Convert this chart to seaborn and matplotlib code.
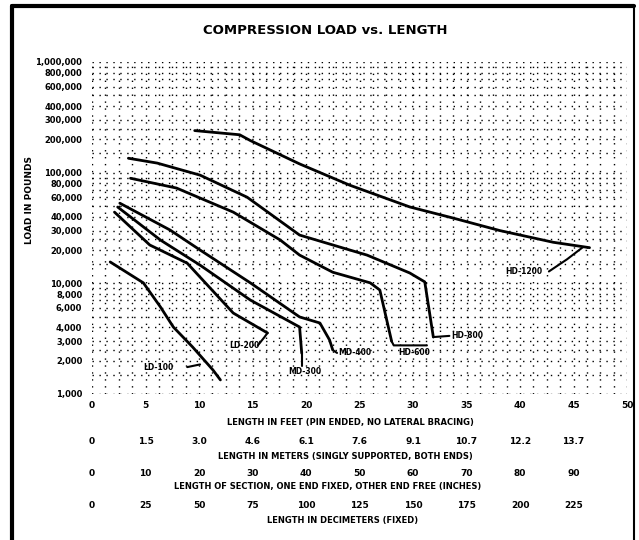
import numpy as np
import pandas as pd
import matplotlib
matplotlib.use("Agg")
import matplotlib.pyplot as plt
import matplotlib.transforms as mtransforms
from matplotlib.lines import Line2D
import seaborn as sns

# ---- chart data -------------------------------------------------------------
title = "COMPRESSION LOAD vs. LENGTH"
y_title = "LOAD IN POUNDS"

load_ticks = [1000, 2000, 3000, 4000, 6000, 8000, 10000, 20000, 30000, 40000,
              60000, 80000, 100000, 200000, 300000, 400000, 600000, 800000, 1000000]

feet_ticks = [0, 5, 10, 15, 20, 25, 30, 35, 40, 45, 50]
feet_title = "LENGTH IN FEET (PIN ENDED, NO LATERAL BRACING)"
row2_labels = ["0", "1.5", "3.0", "4.6", "6.1", "7.6", "9.1", "10.7", "12.2", "13.7"]
row2_title = "LENGTH IN METERS (SINGLY SUPPORTED, BOTH ENDS)"
row3_labels = ["0", "10", "20", "30", "40", "50", "60", "70", "80", "90"]
row3_title = "LENGTH OF SECTION, ONE END FIXED, OTHER END FREE (INCHES)"
row4_labels = ["0", "25", "50", "75", "100", "125", "150", "175", "200", "225"]
row4_title = "LENGTH IN DECIMETERS (FIXED)"

c1_ft = [9.6, 13.8, 14.8, 19.4, 24.1, 29.7, 33.7, 38.1, 43.1, 46.5]
c1_lb = [240000, 220000, 195000, 120000, 77000, 49000, 39000, 30000, 23500, 21000]
c2_ft = [3.4, 6.1, 10.1, 14.5, 19.4, 23.5, 25.7, 29.7, 31.1, 31.9]
c2_lb = [135000, 122000, 95000, 60000, 27300, 20800, 18000, 12400, 10300, 3270]
c3_ft = [3.6, 7.9, 13.2, 17.6, 19.4, 22.5, 26.0, 26.9, 28.0]
c3_lb = [89000, 72600, 44000, 24600, 18000, 12600, 10100, 8700, 3000]
c4_ft = [2.6, 7.3, 10.1, 14.8, 19.4, 21.3, 22.2, 22.5]
c4_lb = [53000, 30300, 20000, 10100, 4970, 4380, 3080, 2500]
c5_ft = [2.4, 6.4, 10.1, 14.8, 19.4, 19.6]
c5_lb = [48900, 24600, 14600, 7060, 4030, 2340]
c6_ft = [2.1, 5.4, 8.9, 13.2, 16.4]
c6_lb = [44000, 22200, 15200, 5390, 3560]
c7_ft = [1.7, 4.8, 6.4, 7.6, 9.4, 11.3, 12.0]
c7_lb = [15600, 10100, 6110, 4030, 2660, 1650, 1340]

curve_names = ["HD-1200", "HD-800", "HD-600", "MD-400", "MD-300", "LD-200", "LD-100"]
curves = [(c1_ft, c1_lb), (c2_ft, c2_lb), (c3_ft, c3_lb), (c4_ft, c4_lb),
          (c5_ft, c5_lb), (c6_ft, c6_lb), (c7_ft, c7_lb)]

# label anchor (ft, lbs) for each curve, plus a leader running back to the curve
label_pos = [(38.6, 12800), (33.6, 3350), (28.6, 2350), (23.0, 2350),
             (18.3, 1600), (12.8, 2750), (4.8, 1750)]
leaders = [
    ([42.7, 44.4, 45.9], [12800, 16500, 21300]),
    ([31.9, 33.4], [3270, 3350]),
    ([28.0, 28.2, 31.3], [3000, 2750, 2750]),
    ([22.5, 22.9], [2500, 2350]),
    ([19.6, 19.6], [2340, 1800]),
    ([16.4, 16.1, 15.5], [3560, 3250, 2750]),
    ([8.9, 10.1], [1750, 1850]),
]

# ---- figure -----------------------------------------------------------------
sns.set_theme(style="white")
plt.rcParams["font.family"] = ["DejaVu Sans"]
plt.rcParams["text.color"] = "black"
plt.rcParams["xtick.color"] = "black"
plt.rcParams["ytick.color"] = "black"

W, H = 639, 540
fig = plt.figure(figsize=(W / 100, H / 100), dpi=100)
fig.patch.set_facecolor("white")
ax = fig.add_axes([92 / W, 1 - 394 / H, (627 - 92) / W, (394 - 62) / H])

frames = []
for name, (xs, ys) in zip(curve_names, curves):
    frames.append(pd.DataFrame({"ft": xs, "lbs": ys, "curve": name}))
df = pd.concat(frames, ignore_index=True)

sns.lineplot(data=df, x="ft", y="lbs", hue="curve", units="curve",
             estimator=None, sort=False, palette=["black"] * len(curve_names),
             linewidth=2.0, legend=False, ax=ax)

ax.set_yscale("log")
ax.set_xlim(0, 50)
ax.set_ylim(1000, 1000000)

# dotted grid
dot = dict(color="black", linestyle=(0, (1, 4)), linewidth=1.0)
for xv in np.arange(0, 50.01, 1.25):
    ax.axvline(xv, **dot, zorder=0)
minor = []
for dec in [1000, 10000, 100000]:
    for m in [1, 1.5, 2, 2.5, 3, 4, 5, 6, 7, 8, 9]:
        minor.append(dec * m)
minor.append(1000000)
for yv in minor:
    ax.axhline(yv, **dot, zorder=0)

for s in ax.spines.values():
    s.set_visible(False)

ax.set_yticks(load_ticks)
ax.set_yticklabels([f"{v:,}" for v in load_ticks], fontsize=6, fontweight="bold")
ax.yaxis.set_minor_locator(matplotlib.ticker.NullLocator())
ax.set_xticks(feet_ticks)
ax.set_xticklabels([str(v) for v in feet_ticks], fontsize=6.5, fontweight="bold")
ax.tick_params(axis="y", length=0, pad=7)
ax.tick_params(axis="x", length=0, pad=5)
ax.set_xlabel("")
ax.set_ylabel("")

# extra length scales under the axis
trans = mtransforms.blended_transform_factory(ax.transData, fig.transFigure)
tk = dict(fontsize=6.5, fontweight="bold", ha="center", va="center", transform=trans)
ttl = dict(fontsize=6, fontweight="bold", ha="center", va="center")
fig.text(350 / W, 1 - 423 / H, feet_title, **ttl)
for xv, lab in zip(feet_ticks, row2_labels):
    ax.text(xv, 1 - 441 / H, lab, **tk)
fig.text(345 / W, 1 - 457 / H, row2_title, **ttl)
for xv, lab in zip(feet_ticks, row3_labels):
    ax.text(xv, 1 - 474 / H, lab, **tk)
fig.text(328 / W, 1 - 487 / H, row3_title, **ttl)
for xv, lab in zip(feet_ticks, row4_labels):
    ax.text(xv, 1 - 505 / H, lab, **tk)
fig.text(343 / W, 1 - 520 / H, row4_title, **ttl)

# curve labels with leaders
for name, (lx, ly) in zip(curve_names, label_pos):
    ax.text(lx, ly, name, fontsize=5.5, fontweight="bold", ha="left", va="center")
for lx, ly in leaders:
    ax.plot(lx, ly, color="black", linewidth=1.5)

fig.text(325 / W, 1 - 30 / H, title, fontsize=9.5, fontweight="bold", ha="center", va="center")
fig.text(30 / W, 1 - 200 / H, y_title, fontsize=6.5, fontweight="bold", rotation=90,
         ha="center", va="center")

# page frame
fig.add_artist(Line2D([12 / W, 12 / W], [0, 1 - 6 / H], color="black", linewidth=3,
                      transform=fig.transFigure))
fig.add_artist(Line2D([12 / W, 634 / W], [1 - 6 / H, 1 - 6 / H], color="black", linewidth=3,
                      transform=fig.transFigure))
fig.add_artist(Line2D([634 / W, 634 / W], [1 - 6 / H, 0], color="black", linewidth=1.5,
                      transform=fig.transFigure))

fig.savefig("out.png", dpi=100)
